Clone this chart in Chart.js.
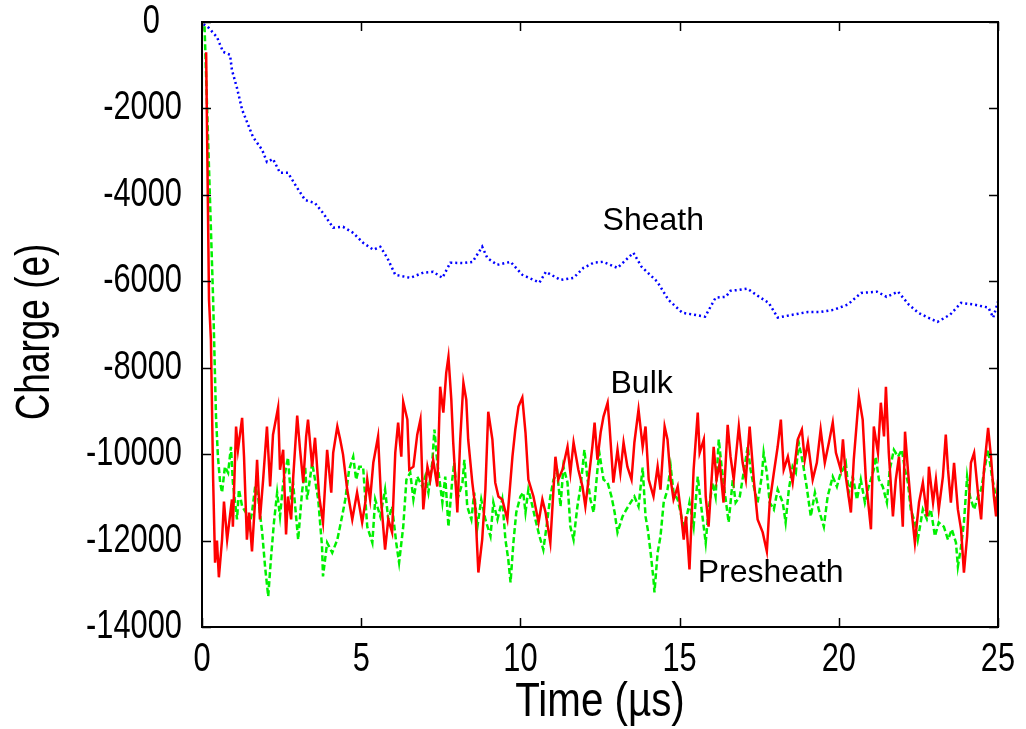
<!DOCTYPE html>
<html>
<head>
<meta charset="utf-8">
<title>Charge vs time</title>
<script src="https://cdn.jsdelivr.net/npm/chart.js@4.4.1/dist/chart.umd.min.js"></script>
<style>
  html, body { margin: 0; padding: 0; background: #fff; }
  #chart { display: block; }
</style>
</head>
<body>
<canvas id="chart" width="1026" height="729"></canvas>
<script>
// values (time in microseconds, charge in e)
const sheathTime = [0.05, 0.22, 0.47, 0.66, 0.88, 0.94, 1.1, 1.26, 1.45, 1.6, 1.89, 2.04, 2.23, 2.45, 2.7, 2.99,
  3.24, 3.55, 3.8, 4.12, 4.43, 4.75, 5.06, 5.38, 5.6, 5.82, 6.07, 6.54, 6.95, 7.26, 7.55, 7.8, 8.2, 8.5, 8.8,
  8.96, 9.27, 9.69, 10.06, 10.6, 10.8, 11.26, 11.67, 11.98, 12.3, 12.6, 13.05, 13.55, 13.8, 14.3, 14.65, 15.09,
  15.44, 15.8, 16.13, 16.45, 16.6, 16.86, 17.13, 17.5, 17.8, 18.08, 18.58, 19.03, 19.43, 19.84, 20.28, 20.7,
  21.2, 21.5, 21.86, 22.2, 22.5, 22.8, 23.1, 23.5, 23.84, 24.25, 24.7, 24.85, 25];
const sheathCharge = [-50, -140, -350, -690, -760, -1110, -1530, -2030, -2380, -2660, -2960, -3240, -3170, -3490,
  -3490, -3840, -4120, -4190, -4420, -4760, -4740, -4880, -5110, -5270, -5200, -5460, -5850, -5920, -5800, -5780,
  -5920, -5570, -5580, -5550, -5200, -5460, -5620, -5550, -5850, -6030, -5780, -5970, -5920, -5690, -5570, -5550,
  -5690, -5340, -5660, -6010, -6430, -6730, -6770, -6820, -6380, -6360, -6220, -6200, -6170, -6360, -6500, -6840,
  -6770, -6710, -6710, -6660, -6540, -6270, -6240, -6360, -6240, -6540, -6730, -6840, -6940, -6770, -6500, -6540,
  -6610, -6840, -6470];

const bulkTime = [0.13, 0.22, 0.28, 0.35, 0.41, 0.47, 0.53, 0.63, 0.69, 0.79, 0.94, 0.97, 1.07, 1.13, 1.26, 1.32,
  1.41, 1.48, 1.57, 1.67, 1.73, 1.82, 1.92, 2.04, 2.14, 2.23, 2.39, 2.45, 2.55, 2.64, 2.7, 2.8, 2.86, 2.99, 3.08,
  3.18, 3.27, 3.33, 3.46, 3.55, 3.68, 3.8, 3.93, 4.06, 4.12, 4.25, 4.34, 4.43, 4.56, 4.72, 4.87, 5.03, 5.13, 5.19,
  5.28, 5.38, 5.53, 5.63, 5.75, 5.85, 5.97, 6.07, 6.16, 6.26, 6.32, 6.45, 6.51, 6.64, 6.76, 6.86, 6.95, 7.08, 7.17,
  7.26, 7.39, 7.48, 7.58, 7.67, 7.74, 7.83, 7.89, 8.02, 8.11, 8.21, 8.3, 8.36, 8.49, 8.58, 8.68, 8.8, 8.9, 8.99,
  9.12, 9.21, 9.31, 9.43, 9.59, 9.75, 9.84, 9.94, 10.06, 10.16, 10.25, 10.41, 10.57, 10.69, 10.79, 10.94, 11.1,
  11.19, 11.32, 11.48, 11.57, 11.67, 11.82, 11.95, 12.04, 12.14, 12.26, 12.33, 12.42, 12.52, 12.61, 12.74, 12.8,
  12.92, 13.05, 13.14, 13.24, 13.36, 13.49, 13.58, 13.71, 13.84, 13.93, 14.03, 14.18, 14.31, 14.4, 14.53, 14.62,
  14.72, 14.81, 14.94, 15.03, 15.13, 15.2, 15.31, 15.44, 15.57, 15.63, 15.76, 15.82, 15.91, 16.07, 16.16, 16.26,
  16.38, 16.51, 16.6, 16.7, 16.86, 16.98, 17.08, 17.2, 17.33, 17.45, 17.61, 17.74, 17.83, 17.96, 18.08, 18.18,
  18.27, 18.4, 18.55, 18.71, 18.84, 18.93, 19.03, 19.18, 19.31, 19.43, 19.56, 19.69, 19.81, 19.91, 20.06, 20.13,
  20.22, 20.38, 20.47, 20.63, 20.75, 20.85, 21.01, 21.1, 21.23, 21.32, 21.42, 21.48, 21.57, 21.7, 21.79, 21.89,
  22.01, 22.08, 22.17, 22.26, 22.39, 22.52, 22.64, 22.77, 22.83, 22.96, 23.05, 23.14, 23.27, 23.36, 23.43, 23.52,
  23.62, 23.74, 23.84, 23.93, 24.03, 24.15, 24.25, 24.37, 24.47, 24.56, 24.69, 24.78, 24.87, 24.94, 25];
const bulkCharge = [-700, -6430, -7350, -10590, -12510, -12000, -12850, -11980, -11100, -11980, -11050, -11680,
  -9360, -9900, -9160, -10060, -11980, -11350, -12250, -11050, -10130, -11510, -10590, -9360, -10750, -9550, -8920,
  -10360, -9900, -11860, -10980, -11510, -10590, -9110, -9900, -10660, -9600, -9200, -10290, -9620, -10980, -11580,
  -9900, -10890, -9970, -9360, -9660, -10010, -10820, -11510, -10890, -11580, -11120, -10590, -11050, -10200, -9590,
  -11120, -12210, -11510, -11810, -9970, -9270, -10060, -8790, -9200, -10360, -10290, -9550, -9200, -11280, -10290,
  -10590, -10130, -10750, -8440, -9040, -8120, -7750, -8740, -9730, -11350, -9660, -8350, -8740, -9660, -10660,
  -11210, -12740, -11980, -10820, -9020, -9660, -10660, -10980, -11050, -11510, -10060, -9430, -8900, -8690, -9500,
  -10590, -10980, -11580, -11050, -11350, -12050, -10060, -10590, -10360, -9830, -10430, -9730, -10360, -10750,
  -11210, -10590, -9830, -9270, -10130, -9500, -9130, -8810, -9360, -10660, -9900, -10430, -9730, -10290, -10590,
  -9730, -8970, -9830, -9360, -10590, -10980, -10290, -10820, -9360, -9660, -10590, -11050, -10750, -11280, -11980,
  -11440, -12670, -10360, -9040, -9970, -9660, -10980, -11680, -9830, -10590, -10200, -11120, -9320, -10060, -10590,
  -9360, -10200, -10590, -9360, -10590, -11510, -11810, -12250, -11120, -10430, -9830, -9200, -10360, -10060, -10660,
  -9660, -9430, -10130, -9730, -10590, -10200, -9430, -10200, -9730, -9270, -9970, -10360, -9660, -10520, -11350,
  -10130, -8670, -9200, -10590, -11740, -9360, -9970, -8810, -9590, -8440, -9970, -11440, -10590, -10060, -11680,
  -9480, -10360, -11120, -12050, -11120, -10660, -11440, -10290, -11120, -10590, -11280, -10520, -9550, -10360,
  -11120, -10200, -11280, -11740, -12740, -11900, -10200, -9970, -10890, -11510, -10360, -9390, -10060, -10980,
  -11440, -10590];

const presheathTime = [0.08, 0.35, 0.38, 0.44, 0.5, 0.57, 0.63, 0.72, 0.82, 0.91, 0.97, 1.1, 1.16, 1.26, 1.38,
  1.48, 1.57, 1.67, 1.76, 1.89, 1.98, 2.08, 2.17, 2.26, 2.36, 2.45, 2.55, 2.7, 2.8, 2.86, 3.02, 3.14, 3.24, 3.3,
  3.46, 3.55, 3.65, 3.77, 3.8, 3.93, 4.09, 4.25, 4.4, 4.5, 4.62, 4.75, 4.84, 4.94, 5.06, 5.13, 5.19, 5.35, 5.44,
  5.6, 5.75, 5.85, 5.97, 6.1, 6.19, 6.32, 6.42, 6.54, 6.64, 6.76, 6.92, 7.01, 7.11, 7.23, 7.3, 7.39, 7.55, 7.64,
  7.74, 7.86, 7.92, 8.02, 8.18, 8.24, 8.33, 8.46, 8.55, 8.65, 8.77, 8.9, 9.06, 9.15, 9.28, 9.43, 9.53, 9.62, 9.69,
  9.78, 9.87, 10.0, 10.09, 10.16, 10.25, 10.38, 10.47, 10.6, 10.72, 10.82, 10.94, 11.04, 11.16, 11.26, 11.35,
  11.48, 11.57, 11.67, 11.79, 11.89, 12.01, 12.11, 12.2, 12.3, 12.42, 12.48, 12.61, 12.74, 12.86, 12.96, 13.05,
  13.21, 13.33, 13.46, 13.58, 13.71, 13.84, 13.93, 14.0, 14.09, 14.18, 14.21, 14.31, 14.4, 14.5, 14.62, 14.72,
  14.81, 14.94, 15.03, 15.13, 15.19, 15.31, 15.44, 15.57, 15.69, 15.82, 15.91, 16.04, 16.13, 16.23, 16.32, 16.42,
  16.54, 16.67, 16.76, 16.89, 17.01, 17.14, 17.23, 17.33, 17.45, 17.58, 17.64, 17.74, 17.83, 17.96, 18.08, 18.24,
  18.33, 18.43, 18.55, 18.65, 18.74, 18.87, 18.99, 19.12, 19.25, 19.37, 19.53, 19.65, 19.81, 19.94, 20.06, 20.13,
  20.22, 20.31, 20.44, 20.57, 20.69, 20.82, 20.94, 21.1, 21.16, 21.26, 21.38, 21.51, 21.6, 21.73, 21.86, 21.98,
  22.08, 22.17, 22.26, 22.39, 22.48, 22.64, 22.77, 22.89, 23.02, 23.14, 23.3, 23.43, 23.55, 23.68, 23.74, 23.84,
  23.93, 24.03, 24.12, 24.25, 24.37, 24.47, 24.59, 24.69, 24.81, 24.91, 25];
const presheathCharge = [-100, -6430, -7350, -9130, -10060, -10660, -10890, -10290, -10430, -9830, -10660, -11510,
  -10820, -11210, -11350, -11680, -11350, -10750, -10980, -11810, -12600, -13290, -12370, -11580, -10890, -11440,
  -10660, -10080, -11050, -10660, -11980, -10890, -10290, -11050, -10200, -10590, -11050, -12140, -12830, -12050,
  -12280, -11980, -11440, -11050, -10360, -10060, -10590, -10290, -10290, -11050, -11680, -12050, -11050, -11440,
  -10820, -11510, -11210, -12050, -12510, -11680, -10590, -10430, -11050, -10520, -10750, -10520, -10890, -10200,
  -9430, -10200, -11120, -10520, -11680, -10590, -10200, -11050, -10660, -10130, -11210, -11510, -10890, -11680,
  -11050, -11510, -11900, -11120, -11510, -11050, -11980, -12440, -12970, -12050, -11350, -10980, -10890, -11350,
  -10820, -11210, -11510, -11900, -12210, -11680, -10980, -10590, -10430, -11210, -10290, -10660, -11680, -11980,
  -11210, -10750, -9900, -10590, -11050, -11350, -10360, -9970, -10590, -10660, -10980, -11350, -11810, -11440,
  -11280, -11120, -10980, -11210, -10310, -11440, -11740, -12280, -12900, -13200, -12280, -11900, -11120, -10820,
  -10290, -10890, -11050, -11350, -11680, -11580, -11120, -11680, -10520, -11280, -12050, -11280, -10660, -10980,
  -9660, -10290, -10890, -11580, -10590, -11120, -10980, -10430, -9830, -10360, -10750, -11120, -10520, -9970,
  -10430, -11120, -11280, -10820, -11120, -11580, -10820, -10290, -10430, -9730, -10200, -10750, -11440, -10890,
  -11280, -11680, -10980, -10520, -10750, -10430, -10360, -10200, -10890, -10520, -11050, -10590, -11120, -10750,
  -10360, -10060, -10590, -10750, -11120, -10360, -9900, -10060, -9900, -10360, -10660, -11280, -11580, -11980,
  -11280, -11510, -11280, -11900, -11580, -11680, -11980, -11740, -12050, -12600, -12140, -11580, -10520, -10980,
  -11280, -10980, -10820, -10290, -9900, -10520, -10890, -11440];

const xTicks = [0, 5, 10, 15, 20, 25];
const yTicks = [0, -2000, -4000, -6000, -8000, -10000, -12000, -14000];

// in-plot labels: [text, time, charge]
const curveLabels = [
  ['Sheath', 12.58, -4620],
  ['Bulk', 12.83, -8390],
  ['Presheath', 15.57, -12760]
];

const sansFont = "'Liberation Sans', Arial, Helvetica, sans-serif";

const toPoints = (xs, ys) => xs.map((x, i) => ({ x: x, y: ys[i] }));

// the original axis text is a squeezed Helvetica, so draw it with a horizontal scale
function squeezedText(ctx, txt, x, y, size, sx, align, rotate) {
  ctx.save();
  ctx.translate(x, y);
  if (rotate) ctx.rotate(-Math.PI / 2);
  ctx.scale(sx, 1);
  ctx.font = size + 'px ' + sansFont;
  ctx.textAlign = align;
  ctx.textBaseline = 'middle';
  ctx.fillText(txt, 0, 0);
  ctx.restore();
}

// gnuplot style frame with inward ticks on all four sides, tick labels, titles and curve labels
const framePlugin = {
  id: 'frame',
  afterDatasetsDraw(chart) {
    const { ctx, chartArea: a, scales } = chart;
    const len = 9;
    ctx.save();
    ctx.strokeStyle = '#000';
    ctx.lineWidth = 2;
    ctx.strokeRect(a.left, a.top, a.right - a.left, a.bottom - a.top);
    ctx.lineWidth = 1.5;
    ctx.beginPath();
    xTicks.forEach(v => {
      const px = Math.round(scales.x.getPixelForValue(v)) + 0.5;
      ctx.moveTo(px, a.bottom); ctx.lineTo(px, a.bottom - len);
      ctx.moveTo(px, a.top); ctx.lineTo(px, a.top + len);
    });
    yTicks.forEach(v => {
      const py = Math.round(scales.y.getPixelForValue(v)) + 0.5;
      ctx.moveTo(a.left, py); ctx.lineTo(a.left + len, py);
      ctx.moveTo(a.right, py); ctx.lineTo(a.right - len, py);
    });
    ctx.stroke();

    ctx.fillStyle = '#000';
    xTicks.forEach(v => {
      squeezedText(ctx, String(v), scales.x.getPixelForValue(v), a.bottom + 33, 40, 0.77, 'center', false);
    });
    // in the original the label without a minus sign ends further left than the others
    yTicks.forEach(v => {
      const right = a.left - 20 - (v < 0 ? 0 : 22);
      squeezedText(ctx, String(v), right, scales.y.getPixelForValue(v), 40, 0.77, 'right', false);
    });
    squeezedText(ctx, 'Time (\u00b5s)', (a.left + a.right) / 2, 703, 48, 0.84, 'center', false);
    squeezedText(ctx, 'Charge (e)', 36, 332, 48, 0.77, 'center', true);

    ctx.font = '32px ' + sansFont;
    ctx.textAlign = 'left';
    ctx.textBaseline = 'middle';
    curveLabels.forEach(([txt, t, q]) => {
      ctx.fillText(txt, scales.x.getPixelForValue(t), scales.y.getPixelForValue(q));
    });
    ctx.restore();
  }
};

const ctx = document.getElementById('chart').getContext('2d');
new Chart(ctx, {
  type: 'line',
  data: {
    datasets: [
      {
        label: 'Sheath',
        data: toPoints(sheathTime, sheathCharge),
        borderColor: '#0000ff',
        borderWidth: 2.5,
        borderDash: [2, 3],
        pointRadius: 0,
        tension: 0,
        fill: false
      },
      {
        label: 'Bulk',
        data: toPoints(bulkTime, bulkCharge),
        borderColor: '#ff0000',
        borderWidth: 2.5,
        pointRadius: 0,
        tension: 0,
        fill: false
      },
      {
        label: 'Presheath',
        data: toPoints(presheathTime, presheathCharge),
        borderColor: '#00f000',
        borderWidth: 2.5,
        borderDash: [6, 3],
        pointRadius: 0,
        tension: 0,
        fill: false
      }
    ]
  },
  options: {
    responsive: false,
    devicePixelRatio: 1,
    animation: false,
    layout: { padding: { top: 22, right: 28, left: 0, bottom: 0 } },
    plugins: {
      legend: { display: false },
      tooltip: { enabled: false }
    },
    scales: {
      x: {
        type: 'linear',
        min: 0,
        max: 25,
        afterFit: s => { s.height = 102; },
        grid: { display: false, drawTicks: false },
        border: { display: false },
        ticks: { display: false }
      },
      y: {
        type: 'linear',
        min: -14000,
        max: 0,
        afterFit: s => { s.width = 202; },
        grid: { display: false, drawTicks: false },
        border: { display: false },
        ticks: { display: false }
      }
    }
  },
  plugins: [framePlugin]
});
</script>
</body>
</html>
